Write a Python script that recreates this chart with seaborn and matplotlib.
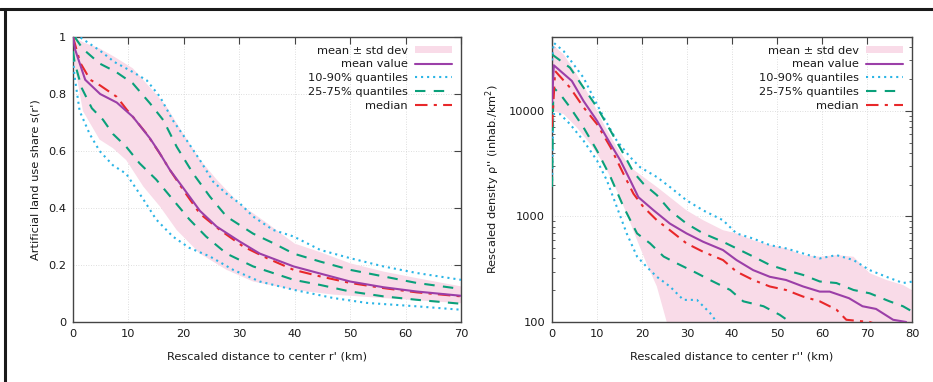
import numpy as np
import matplotlib
matplotlib.use("Agg")
import matplotlib.pyplot as plt
import seaborn as sns
from matplotlib.lines import Line2D
from matplotlib.patches import Patch
from matplotlib.ticker import LogLocator, NullFormatter, FixedLocator

# ---------------- Left panel data: artificial land use share ----------------
L_mean_r = [0, 0.4, 2.2, 4.9, 7.9, 10.8, 13.9, 15.4, 17.5, 19.9, 22.9, 25.9, 30.1, 33.7, 39.8, 44.6, 50, 56, 62, 70]
L_mean_v = [1.0, 0.955, 0.85, 0.80, 0.77, 0.72, 0.644, 0.60, 0.533, 0.47, 0.39, 0.335, 0.282, 0.24, 0.195, 0.17, 0.142, 0.122, 0.107, 0.092]

L_bandup_r = [0, 2, 4.8, 7.5, 10.8, 14.5, 16.9, 19.9, 22.9, 25.9, 30, 35, 40, 44.6, 50, 56, 62, 70]
L_bandup_v = [1.0, 0.98, 0.96, 0.93, 0.89, 0.81, 0.755, 0.66, 0.57, 0.50, 0.416, 0.347, 0.275, 0.245, 0.206, 0.177, 0.154, 0.125]
L_bandlo_r = [0, 0.3, 1.8, 4.8, 7.2, 9.6, 12.7, 15.7, 18.7, 22.9, 27.7, 32.5, 39.8, 47, 56, 70]
L_bandlo_v = [1.0, 0.9, 0.74, 0.64, 0.61, 0.568, 0.475, 0.405, 0.323, 0.24, 0.183, 0.142, 0.113, 0.096, 0.084, 0.066]

L_q90_r = [0.3, 1.2, 4.8, 7.5, 10.8, 13.3, 15.7, 18, 20.5, 22.9, 25.3, 27.7, 30.1, 32.5, 36.1, 39.8, 44.6, 50, 56, 62, 70]
L_q90_v = [1.0, 1.0, 0.953, 0.912, 0.877, 0.848, 0.79, 0.708, 0.638, 0.568, 0.492, 0.45, 0.416, 0.37, 0.323, 0.30, 0.253, 0.224, 0.195, 0.172, 0.148]
L_q10_r = [0, 0.3, 1.2, 3, 4.8, 7.2, 9.6, 12.7, 15, 18, 21, 24.7, 28.9, 33.7, 39.8, 47, 53, 62, 70]
L_q10_v = [0.92, 0.86, 0.74, 0.66, 0.60, 0.55, 0.52, 0.43, 0.36, 0.30, 0.26, 0.23, 0.183, 0.142, 0.113, 0.084, 0.067, 0.055, 0.043]

L_q75_r = [0.3, 1.8, 4.8, 7.8, 10.8, 13.9, 16.3, 18.7, 21.7, 24.7, 27.7, 32.5, 36.1, 39.8, 44.6, 50, 56, 62, 70]
L_q75_v = [1.0, 0.958, 0.907, 0.877, 0.837, 0.767, 0.708, 0.615, 0.52, 0.44, 0.37, 0.31, 0.277, 0.24, 0.212, 0.183, 0.16, 0.137, 0.116]
L_q25_r = [0, 0.3, 1.6, 3.4, 5.4, 7.2, 9.6, 12, 15, 18, 21, 24, 27.7, 32.5, 39.8, 44.6, 50, 56, 62, 70]
L_q25_v = [0.95, 0.91, 0.82, 0.75, 0.71, 0.66, 0.615, 0.557, 0.50, 0.43, 0.36, 0.30, 0.24, 0.195, 0.148, 0.13, 0.107, 0.09, 0.078, 0.064]

L_med_r = [0, 1.3, 3.1, 4.9, 7.9, 9.7, 10.8, 13.3, 15.7, 17.5, 19.9, 22.9, 26.5, 30.7, 35, 39.8, 44.6, 50, 56, 62, 70]
L_med_v = [1.0, 0.91, 0.85, 0.83, 0.79, 0.745, 0.72, 0.66, 0.59, 0.533, 0.463, 0.38, 0.323, 0.265, 0.224, 0.183, 0.16, 0.137, 0.119, 0.104, 0.09]

# ---------------- Right panel data: rescaled density ----------------
R_mean_r = [0, 0.4, 4.4, 7, 10, 13, 15.2, 17.4, 19.2, 22.6, 26.2, 29.9, 33.6, 38, 41, 44.7, 48.4, 52, 55.8, 59.5, 61.7, 66, 69, 72, 75.8, 78.7]
R_mean_v = [12000, 27000, 19200, 12400, 8050, 4850, 3380, 2190, 1520, 1140, 855, 690, 575, 480, 386, 310, 268, 250, 217, 194, 194, 168, 141, 133, 105, 100]

R_bandup_r = [0, 2.6, 5.5, 8.5, 11.5, 14.4, 17.4, 20.3, 23.3, 26.2, 29.9, 33.6, 38, 41, 44.7, 48.4, 52, 55.8, 59.5, 63.2, 67, 70.6, 74.3, 78, 80]
R_bandup_v = [42500, 34200, 22100, 13400, 7480, 4520, 2920, 2360, 1900, 1520, 1140, 920, 740, 690, 595, 535, 498, 430, 415, 430, 415, 290, 250, 224, 200]
R_bandlo_r = [0, 2.6, 5.5, 8.5, 11.5, 14.4, 16.6, 18.9, 21, 23.3, 25.5, 28, 80]
R_bandlo_v = [10000, 9300, 6960, 4850, 3150, 1760, 1060, 597, 360, 217, 100, 60, 30]

R_q90_r = [0, 0.4, 2.6, 4.8, 7, 9.2, 11.5, 14.4, 17.4, 19.6, 23.3, 26.2, 29.9, 33.6, 38, 41, 44.7, 48.4, 52, 55.8, 59.5, 63.2, 67, 70.6, 74.3, 78, 80]
R_q90_v = [30000, 44000, 36700, 27500, 20600, 13400, 8650, 5210, 3630, 2920, 2360, 1900, 1420, 1140, 920, 690, 617, 535, 498, 446, 400, 430, 386, 310, 268, 234, 241]
R_q10_r = [0, 0.3, 1.8, 4, 7, 10, 12.2, 14.4, 16.6, 18.9, 21, 23.3, 26.2, 29.2, 32.2, 35.1, 36.6, 38]
R_q10_v = [1900, 9300, 9300, 7480, 5210, 3380, 2190, 1230, 690, 417, 334, 268, 217, 162, 162, 122, 100, 90]

R_q75_r = [0, 4, 7, 10, 13, 15.9, 18.1, 20.3, 23.3, 26.2, 29.9, 33.6, 38, 41, 44.7, 48.4, 52, 55.8, 59.5, 63.2, 67, 70.6, 75, 78, 80]
R_q75_v = [34200, 25600, 16600, 10800, 6480, 3910, 2620, 2040, 1590, 1140, 855, 690, 575, 498, 417, 347, 310, 279, 242, 234, 201, 187, 157, 141, 126]
R_q25_r = [0, 0.3, 1.8, 4, 7, 10, 13, 15.9, 18.9, 21.8, 24.8, 27.7, 32.2, 35.1, 39.6, 42.5, 47, 50.6, 52.9, 56]
R_q25_v = [1900, 16600, 14400, 10800, 6960, 4200, 2360, 1230, 690, 555, 417, 360, 290, 250, 201, 157, 141, 117, 100, 85]

R_med_r = [0, 0.7, 4, 7, 10, 13, 15.9, 18.1, 20.3, 23.3, 26.2, 29.9, 33.6, 38, 41, 44.7, 48.4, 52, 55.8, 59.5, 63.2, 65.4, 68.4, 70.6, 73, 76]
R_med_v = [7000, 23800, 16600, 10800, 7480, 4520, 2520, 1640, 1230, 920, 740, 555, 462, 386, 300, 250, 217, 201, 174, 157, 131, 105, 102, 100, 92, 85]

# ---------------- Labels ----------------
legend_labels = ["mean ± std dev", "mean value", "10-90% quantiles", "25-75% quantiles", "median"]
L_xlabel = "Rescaled distance to center r' (km)"
L_ylabel = "Artificial land use share s(r')"
R_xlabel = "Rescaled distance to center r'' (km)"
R_ylabel = "Rescaled density ρ'' (inhab./km$^2$)"
L_xticks = [0, 10, 20, 30, 40, 50, 60, 70]
L_yticks = [0, 0.2, 0.4, 0.6, 0.8, 1]
L_yticklabels = ["0", "0.2", "0.4", "0.6", "0.8", "1"]
R_xticks = [0, 10, 20, 30, 40, 50, 60, 70, 80]
R_yticks = [100, 1000, 10000]
R_yticklabels = ["100", "1000", "10000"]

# ---------------- Styles ----------------
sns.set_theme(style="white")
plt.rcParams["font.family"] = ["DejaVu Sans"]
FS = 8.2
C_BAND = "#f9dbe8"
C_MEAN = "#9b3fa8"
C_Q1090 = "#2bb5e6"
C_Q2575 = "#0aa07a"
C_MED = "#e8282a"
LS_DOT = (0, (1.0, 1.9))
LS_DASH = (0, (5.0, 4.0))
LS_DASHDOT = (0, (6, 3, 1.5, 3))
LW = 1.5
AXC = "#444444"

fig = plt.figure(figsize=(9.33, 3.82), dpi=100)
axL = fig.add_axes([73 / 933, 1 - 322 / 382, 388 / 933, 285 / 382])
axR = fig.add_axes([552 / 933, 1 - 322 / 382, 360 / 933, 285 / 382])


def draw(ax, bu_r, bu_v, bl_r, bl_v, mean, q90, q10, q75, q25, med):
    xs = list(bu_r) + list(bl_r)[::-1]
    ys = list(bu_v) + list(bl_v)[::-1]
    ax.fill(xs, ys, color=C_BAND, lw=0, zorder=1)
    common = dict(ax=ax, estimator=None, errorbar=None, sort=False, lw=LW, zorder=3)
    sns.lineplot(x=q90[0], y=q90[1], color=C_Q1090, linestyle=LS_DOT, **common)
    sns.lineplot(x=q10[0], y=q10[1], color=C_Q1090, linestyle=LS_DOT, **common)
    sns.lineplot(x=q75[0], y=q75[1], color=C_Q2575, linestyle=LS_DASH, **common)
    sns.lineplot(x=q25[0], y=q25[1], color=C_Q2575, linestyle=LS_DASH, **common)
    sns.lineplot(x=med[0], y=med[1], color=C_MED, linestyle=LS_DASHDOT, **common)
    sns.lineplot(x=mean[0], y=mean[1], color=C_MEAN, linestyle="-", **common)


draw(axL, L_bandup_r, L_bandup_v, L_bandlo_r, L_bandlo_v,
     (L_mean_r, L_mean_v), (L_q90_r, L_q90_v), (L_q10_r, L_q10_v),
     (L_q75_r, L_q75_v), (L_q25_r, L_q25_v), (L_med_r, L_med_v))
draw(axR, R_bandup_r, R_bandup_v, R_bandlo_r, R_bandlo_v,
     (R_mean_r, R_mean_v), (R_q90_r, R_q90_v), (R_q10_r, R_q10_v),
     (R_q75_r, R_q75_v), (R_q25_r, R_q25_v), (R_med_r, R_med_v))

axR.set_yscale("log")

axL.set_xlim(0, 70)
axL.set_ylim(0, 1)
axL.set_xticks(L_xticks)
axL.set_yticks(L_yticks)
axL.set_yticklabels(L_yticklabels)

axR.set_xlim(0, 80)
axR.set_ylim(100, 50000)
axR.yaxis.set_major_locator(FixedLocator(R_yticks))
axR.set_yticklabels(R_yticklabels)
axR.yaxis.set_minor_locator(LogLocator(base=10, subs=np.arange(2, 10)))
axR.yaxis.set_minor_formatter(NullFormatter())
axR.set_xticks(R_xticks)

for ax, xl, yl in ((axL, L_xlabel, L_ylabel), (axR, R_xlabel, R_ylabel)):
    ax.set_xlabel(xl, fontsize=FS, color="#1a1a1a", labelpad=9)
    ax.set_ylabel(yl, fontsize=FS, color="#1a1a1a", labelpad=5)
    ax.tick_params(axis="both", which="major", direction="in", length=5, width=0.8,
                   top=True, right=True, labelsize=FS, colors=AXC, labelcolor="#1a1a1a", pad=5)
    ax.tick_params(axis="both", which="minor", direction="in", length=2.5, width=0.6,
                   left=True, right=True, colors=AXC)
    ax.grid(True, which="major", color="#d4d4d4", linestyle=(0, (1, 2)), lw=0.6)
    ax.set_axisbelow(True)
    for s in ax.spines.values():
        s.set_color(AXC)
        s.set_linewidth(1.0)
        s.set_visible(True)
    ax.set_facecolor("white")
    handles = [
        Patch(facecolor=C_BAND, edgecolor="none"),
        Line2D([], [], color=C_MEAN, lw=LW),
        Line2D([], [], color=C_Q1090, lw=LW, linestyle=LS_DOT),
        Line2D([], [], color=C_Q2575, lw=LW, linestyle=LS_DASH),
        Line2D([], [], color=C_MED, lw=LW, linestyle=LS_DASHDOT),
    ]
    leg = ax.legend(handles, legend_labels, loc="upper right", bbox_to_anchor=(1.0, 1.0),
                    frameon=False, markerfirst=False, fontsize=FS, handlelength=3.3,
                    handleheight=0.6, handletextpad=0.6, labelspacing=0.34,
                    borderaxespad=0.45, borderpad=0.3)
    for t in leg.get_texts():
        t.set_color("#1a1a1a")

# outer frame lines (top and left)
fig.add_artist(Line2D([0, 1], [1 - 8.5 / 382, 1 - 8.5 / 382], transform=fig.transFigure,
                      color="#1a1a1a", lw=2.2))
fig.add_artist(Line2D([5 / 933, 5 / 933], [0, 1 - 8.5 / 382], transform=fig.transFigure,
                      color="#1a1a1a", lw=2.2))

fig.savefig("out.png", dpi=100, facecolor="white")
